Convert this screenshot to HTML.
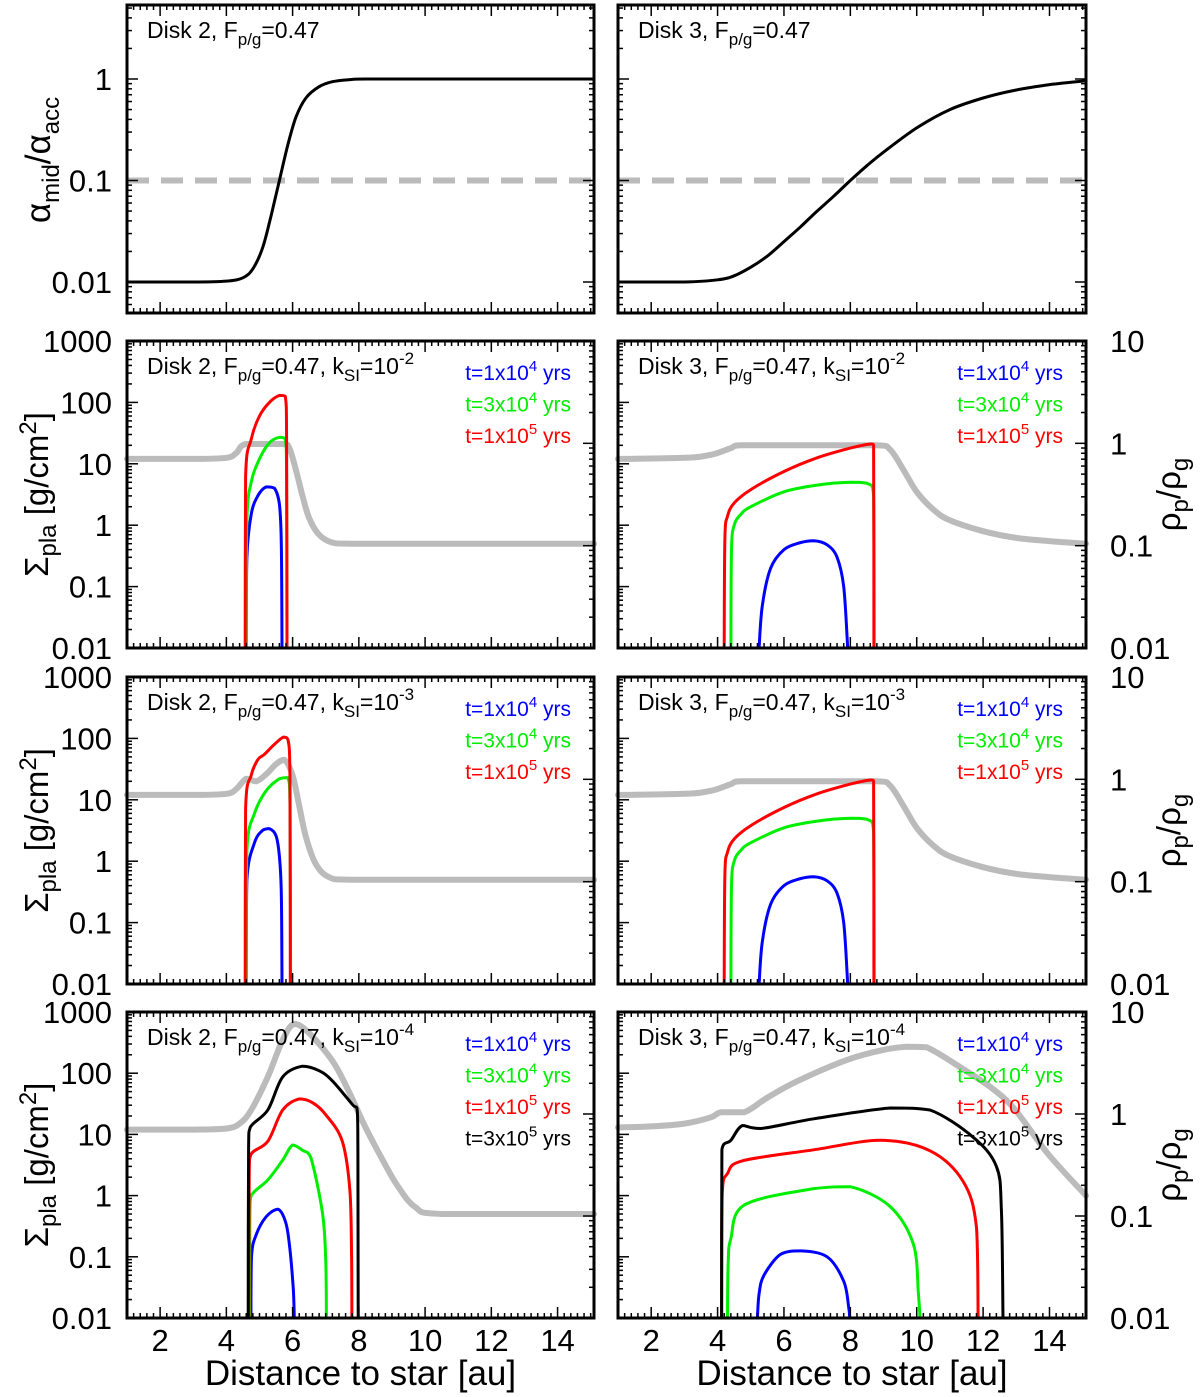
<!DOCTYPE html>
<html><head><meta charset="utf-8"><style>
html,body{margin:0;padding:0;background:#fff;}
svg{display:block;font-family:"Liberation Sans",Arial,sans-serif;}
</style></head><body>
<svg id="fig" width="1200" height="1397" viewBox="0 0 1200 1397" xmlns="http://www.w3.org/2000/svg"></svg>
<script>
// ---- data ----
const alphaD2X=[1,3,4,4.5,4.8,5.1,5.35,5.6,5.85,6.1,6.4,6.8,7.2,7.7,8.2,10,15.1];
const alphaD2Y=[0.01,0.01,0.0102,0.011,0.0135,0.022,0.045,0.1,0.22,0.42,0.65,0.84,0.94,0.985,1,1,1];
const alphaD3X=[1,3,4,4.5,5,5.5,6,6.5,7,7.5,8,8.5,9,10,11,12,13,14,15.1];
const alphaD3Y=[0.01,0.01,0.0105,0.0115,0.014,0.018,0.025,0.035,0.05,0.07,0.1,0.14,0.19,0.33,0.5,0.65,0.78,0.88,0.96];
const alphaCut=0.1;

// Row 2 (kSI=1e-2), Disk 2
const r2d2GasX=[1,3,4,4.3,4.6,5.7,5.9,6.1,6.3,6.5,6.8,7.2,7.8,15.1];
const r2d2GasY=[12,12,12.5,15,21,21,18,8,3,1.3,0.7,0.52,0.5,0.5];
const r2d2BX=[4.6,4.62,4.75,4.95,5.2,5.45,5.6,5.66,5.68];
const r2d2BY=[0.01,0.3,1.5,3,4.2,4,2.2,0.5,0.01];
const r2d2GX=[4.6,4.62,4.75,5.0,5.3,5.6,5.78,5.82,5.83];
const r2d2GY=[0.01,1.2,5,12,22,27,25,5,0.01];
const r2d2RX=[4.57,4.58,4.75,5.0,5.3,5.6,5.78,5.82,5.83];
const r2d2RY=[0.01,6,25,60,100,130,125,20,0.01];
// Row 2, Disk 3
const r2d3GasX=[1,3,3.8,4.4,4.7,8.8,9.2,9.6,10,10.5,11,12,13,14,15.1];
const r2d3GasY=[12,12.5,14,18,20,20,17,8,3.5,1.8,1.2,0.8,0.62,0.55,0.5];
const r2d3BX=[5.25,5.35,5.6,6,6.5,6.9,7.3,7.6,7.8,7.92];
const r2d3BY=[0.01,0.05,0.2,0.4,0.52,0.56,0.48,0.3,0.1,0.01];
const r2d3GX=[4.4,4.42,4.5,4.7,5,6,7,8,8.55,8.7,8.72];
const r2d3GY=[0.01,0.4,1,1.5,2,3.5,4.5,5,4.7,3,0.01];
const r2d3RX=[4.2,4.22,4.3,4.5,5,6,7,8,8.6,8.7,8.71];
const r2d3RY=[0.01,0.6,1.4,2.3,3.8,7.5,12.5,18,21,20,0.01];
// Row 3 (kSI=1e-3), Disk 2
const r3d2GasX=[1,3,4,4.3,4.6,4.9,5.2,5.5,5.75,6.0,6.2,6.4,6.7,7.1,7.8,15.1];
const r3d2GasY=[12,12,12.5,15,22,20,26,38,45,25,8,2.5,0.9,0.55,0.5,0.5];
const r3d2BX=[4.6,4.62,4.85,5.1,5.3,5.5,5.6,5.66,5.68];
const r3d2BY=[0.01,0.5,2,3.2,3.4,2.6,1.2,0.3,0.01];
const r3d2GX=[4.6,4.62,4.85,5.2,5.6,5.85,5.92,5.94];
const r3d2GY=[0.01,1.5,6,14,22,23,8,0.01];
const r3d2RX=[4.57,4.58,4.75,4.95,5.15,5.45,5.72,5.86,5.92,5.93];
const r3d2RY=[0.01,7,25,45,55,80,105,95,20,0.01];
// Row 3, Disk 3
const r3d3GasX=r2d3GasX, r3d3GasY=r2d3GasY;
const r3d3BX=r2d3BX, r3d3BY=r2d3BY, r3d3GX=r2d3GX, r3d3GY=r2d3GY, r3d3RX=r2d3RX, r3d3RY=r2d3RY;
// Row 4 (kSI=1e-4), Disk 2
const r4d2GasX=[1,3,4,4.4,4.75,5.25,5.7,6.05,6.5,7.2,7.7,8.2,8.7,9.15,9.7,10.5,15.1];
const r4d2GasY=[12,12,12.5,15,25,87,350,640,450,160,50,13,4,1.5,0.65,0.5,0.5];
const r4d2BX=[4.74,4.76,4.9,5.2,5.56,5.8,5.92,6.02,6.05];
const r4d2BY=[0.01,0.1,0.23,0.45,0.6,0.35,0.13,0.03,0.01];
const r4d2GX=[4.7,4.71,4.75,5.25,5.7,6.0,6.3,6.55,6.9,7.0,7.02];
const r4d2GY=[0.01,0.5,1,1.8,3.8,6.7,5.5,4.2,0.53,0.09,0.01];
const r4d2RX=[4.68,4.69,4.74,5.25,5.7,6.2,6.6,7.0,7.5,7.73,7.78,7.79];
const r4d2RY=[0.01,2,4.7,7.7,25,38,33,21,7.7,1.2,0.1,0.01];
const r4d2KX=[4.66,4.67,4.72,5.25,5.7,6.3,6.8,7.2,7.8,7.95,7.97,7.98];
const r4d2KY=[0.01,6,13,25,87,130,110,75,31,25,5,0.01];
// Row 4, Disk 3
const r4d3GasX=[1,2,3,3.8,4.1,4.8,5.5,6.4,7.9,9.0,9.7,10.3,11.45,12.3,12.97,13.97,15.1];
const r4d3GasY=[13,13.5,15,19,23,23,40,74,165,240,270,265,112,55,25,4.7,1];
const r4d3BX=[5.2,5.25,5.4,5.9,6.5,7.3,7.8,7.95,7.98];
const r4d3BY=[0.01,0.025,0.05,0.11,0.125,0.1,0.04,0.015,0.01];
const r4d3GX=[4.3,4.32,4.4,4.8,6.9,8.0,9.2,9.9,10.05,10.1];
const r4d3GY=[0.01,0.08,0.2,0.7,1.3,1.4,0.66,0.16,0.025,0.01];
const r4d3RX=[4.12,4.14,4.3,4.75,6.9,8.9,10.4,11.4,11.8,11.85];
const r4d3RY=[0.01,1.05,2.3,3.7,5.6,8,5.4,1.7,0.3,0.01];
const r4d3KX=[4.12,4.13,4.4,4.75,5.3,6.9,9.2,10.4,11.7,12.4,12.55,12.6];
const r4d3KY=[0.01,5.6,8,14,12.5,18,27,25,9,3,0.58,0.01];

const xTicks=[2,4,6,8,10,12,14];
const sigTicks=[1000,100,10,1,0.1,0.01];
const sigLabels=["1000","100","10","1","0.1","0.01"];
const rhoTicks=[10,1,0.1,0.01];
const rhoLabels=["10","1","0.1","0.01"];
const alphaTicks=[1,0.1,0.01];
const alphaLabels=["1","0.1","0.01"];

// ---- layout ----
const svg=document.getElementById('fig');
const NS="http://www.w3.org/2000/svg";
const cols=[[127,594],[618,1086]];
const rows=[[5,313],[341,648],[677,984],[1012,1318]];
const X0=1,X1=15.1;
function xs(c,v){return cols[c][0]+(v-X0)/(X1-X0)*(cols[c][1]-cols[c][0]);}
function ySig(r,v){const[t,b]=rows[r];return t+(3-Math.log10(v))*(b-t)/5;}
function yRho(r,v){const[t,b]=rows[r];return t+(1-Math.log10(v))*(b-t)/3;}
function yAlp(v){return 79-101.5*Math.log10(v);}
function el(tag,attrs,parent){const e=document.createElementNS(NS,tag);for(const k in attrs)e.setAttribute(k,attrs[k]);(parent||svg).appendChild(e);return e;}

function clamp(v,a,b){return Math.min(Math.max(a,b),Math.max(Math.min(a,b),v));}
function smoothPath(P){
  let d='M'+P[0][0].toFixed(1)+','+P[0][1].toFixed(1);
  for(let i=0;i<P.length-1;i++){
    const p0=P[Math.max(0,i-1)],p1=P[i],p2=P[i+1],p3=P[Math.min(P.length-1,i+2)];
    const k=1/6;
    const c1=[clamp(p1[0]+(p2[0]-p0[0])*k,p1[0],p2[0]),clamp(p1[1]+(p2[1]-p0[1])*k,p1[1],p2[1])];
    const c2=[clamp(p2[0]-(p3[0]-p1[0])*k,p1[0],p2[0]),clamp(p2[1]-(p3[1]-p1[1])*k,p1[1],p2[1])];
    d+=' C'+c1[0].toFixed(1)+','+c1[1].toFixed(1)+' '+c2[0].toFixed(1)+','+c2[1].toFixed(1)+' '+p2[0].toFixed(1)+','+p2[1].toFixed(1);
  }
  return d;
}
function line(c,r,X,Y,color,w,name,yf,dash){
  const P=X.map((x,i)=>[xs(c,x),yf(Y[i])]);
  const p=el('path',{d:dash?('M'+P.map(q=>q.join(',')).join(' L')):smoothPath(P),fill:'none',stroke:color,'stroke-width':w,'stroke-linejoin':'round','stroke-linecap':dash?'butt':'round'});
  if(dash)p.setAttribute('stroke-dasharray',dash);
  
  
}
function txt(x,y,s,size,anchor,color,name){
  const t=el('text',{x:x,y:y,'font-size':size,'text-anchor':anchor||'start',fill:color||'#000'});
  t.innerHTML=s;
  
  
  return t;
}
function frame(c,r,logMajors,yfL,rhoMode){
  const [x0,x1]=cols[c],[t,b]=rows[r];
  const g=el('g',{stroke:'#000',fill:'none'});
  
  
  for(let v=1;v<=15.01;v+=0.2){
    const major=Math.abs(v-Math.round(v))<0.01&&Math.round(v)%2===0;
    const x=xs(c,v);const L=major?11:5;
    el('line',{x1:x,y1:b,x2:x,y2:b-L,'stroke-width':1.5},g);
    el('line',{x1:x,y1:t,x2:x,y2:t+L,'stroke-width':1.5},g);
  }
  function yt(fn,lo,hi,side){
    for(let e=lo;e<hi;e++){
      for(let m=1;m<10;m++){
        const v=m*Math.pow(10,e);const y=fn(v);
        if(y<t-0.5||y>b+0.5)continue;
        const L=m===1?11:5;const x=side?x1:x0;
        el('line',{x1:x,y1:y,x2:side?x-L:x+L,y2:y,'stroke-width':1.5},g);
      }
    }
  }
  yt(yfL,-3,4,0);
  if(rhoMode)yt(v=>yRho(r,v),-2,2,1);else yt(yfL,-3,4,1);
  el('rect',{x:x0,y:t,width:x1-x0,height:b-t,'stroke-width':3},g);
}

// ---- row 1 ----
for(let c=0;c<2;c++){
  line(c,0,[1,15.1],[alphaCut,alphaCut],'#bbb',6,'alpha-threshold-dashed',yAlp,'22,12');
}
line(0,0,alphaD2X,alphaD2Y,'#000',3,'alpha-ratio-disk2',yAlp);
line(1,0,alphaD3X,alphaD3Y,'#000',3,'alpha-ratio-disk3',yAlp);
frame(0,0,null,yAlp,false);frame(1,0,null,yAlp,false);
alphaTicks.forEach((v,i)=>{txt(112,yAlp(v)+11,alphaLabels[i],31,'end','#000','alpha-tick-label');});
txt(147,38,'Disk 2, F<tspan dy="7" font-size="17">p/g</tspan><tspan dy="-7">=0.47</tspan>',23,'start','#000','panel-title-disk2-alpha');
txt(638,38,'Disk 3, F<tspan dy="7" font-size="17">p/g</tspan><tspan dy="-7">=0.47</tspan>',23,'start','#000','panel-title-disk3-alpha');
{const t=txt(0,0,'α<tspan dy="9" font-size="24">mid</tspan><tspan dy="-9">/α</tspan><tspan dy="9" font-size="24">acc</tspan>',35,'middle','#000','alpha-axis-title');
 t.setAttribute('transform','translate(50,160) rotate(-90)');}

// ---- rows 2-4 ----
const sets=[
 [[r2d2GasX,r2d2GasY,r2d2BX,r2d2BY,r2d2GX,r2d2GY,r2d2RX,r2d2RY],[r2d3GasX,r2d3GasY,r2d3BX,r2d3BY,r2d3GX,r2d3GY,r2d3RX,r2d3RY],'-2'],
 [[r3d2GasX,r3d2GasY,r3d2BX,r3d2BY,r3d2GX,r3d2GY,r3d2RX,r3d2RY],[r3d3GasX,r3d3GasY,r3d3BX,r3d3BY,r3d3GX,r3d3GY,r3d3RX,r3d3RY],'-3'],
 [[r4d2GasX,r4d2GasY,r4d2BX,r4d2BY,r4d2GX,r4d2GY,r4d2RX,r4d2RY,r4d2KX,r4d2KY],[r4d3GasX,r4d3GasY,r4d3BX,r4d3BY,r4d3GX,r4d3GY,r4d3RX,r4d3RY,r4d3KX,r4d3KY],'-4']
];
for(let i=0;i<3;i++){
  const r=i+1;const yf=v=>ySig(r,v);
  for(let c=0;c<2;c++){
    const d=sets[i][c];
    line(c,r,d[0],d[1],'#bbb',6,'gas-density-ratio-curve',yf);
    line(c,r,d[2],d[3],'#0000ff',3,'sigma-t1e4-curve',yf);
    line(c,r,d[4],d[5],'#00ee00',3,'sigma-t3e4-curve',yf);
    line(c,r,d[6],d[7],'#ff0000',3,'sigma-t1e5-curve',yf);
    if(d[8])line(c,r,d[8],d[9],'#000',3,'sigma-t3e5-curve',yf);
    frame(c,r,null,yf,true);
    const x0=cols[c][0],t=rows[r][0];
    txt(x0+20,t+33,'Disk '+(c+2)+', F<tspan dy="7" font-size="17">p/g</tspan><tspan dy="-7">=0.47, k</tspan><tspan dy="7" font-size="17">SI</tspan><tspan dy="-7">=10</tspan><tspan dy="-10" font-size="17">'+sets[i][2]+'</tspan>',23,'start','#000','panel-title');
    const lx=cols[c][1]-23;
    const leg=[['#0000ff','t=1x10','4'],['#00ee00','t=3x10','4'],['#ff0000','t=1x10','5']];
    if(d[8])leg.push(['#000','t=3x10','5']);
    leg.forEach((L,k)=>{txt(lx,t+39+k*31.5,L[1]+'<tspan dy="-9" font-size="15">'+L[2]+'</tspan><tspan dy="9"> yrs</tspan>',21,'end',L[0],'legend-entry');});
  }
  sigTicks.forEach((v,k)=>{txt(112,ySig(r,v)+11,sigLabels[k],31,'end','#000','sigma-tick-label');});
  rhoTicks.forEach((v,k)=>{txt(1110,yRho(r,v)+11,rhoLabels[k],31,'start','#000','rho-tick-label');});
  const cy=(rows[r][0]+rows[r][1])/2;
  {const t=txt(0,0,'Σ<tspan dy="8" font-size="24">pla</tspan><tspan dy="-8"> [g/cm</tspan><tspan dy="-12" font-size="24">2</tspan><tspan dy="12">]</tspan>',33,'middle','#000','sigma-axis-title');
   t.setAttribute('transform','translate(48,'+cy+') rotate(-90)');}
  {const t=txt(0,0,'ρ<tspan dy="8" font-size="24">p</tspan><tspan dy="-8">/ρ</tspan><tspan dy="8" font-size="24">g</tspan>',33,'middle','#000','rho-axis-title');
   t.setAttribute('transform','translate(1180,'+cy+') rotate(-90)');}
}
for(let c=0;c<2;c++){
  xTicks.forEach(v=>{txt(xs(c,v),1351,String(v),31,'middle','#000','x-tick-label');});
  txt((cols[c][0]+cols[c][1])/2,1385,'Distance to star [au]',35,'middle','#000','x-axis-title');
}
</script>
</body></html>
